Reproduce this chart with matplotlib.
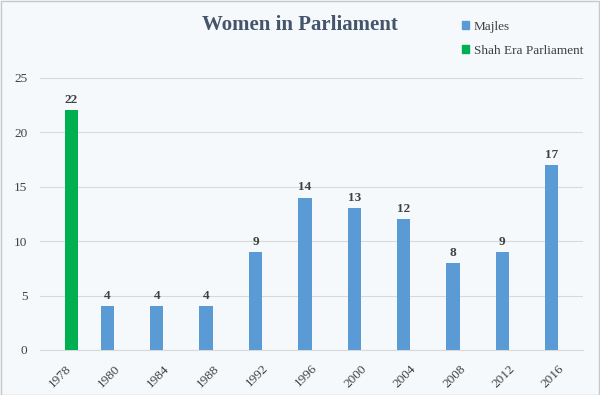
import matplotlib
matplotlib.use('Agg')
import matplotlib.pyplot as plt
from matplotlib.patches import Patch
import numpy as np

years = ['1978', '1980', '1984', '1988', '1992', '1996', '2000', '2004', '2008', '2012', '2016']
majles = [0, 4, 4, 4, 9, 14, 13, 12, 8, 9, 17]
shah = [22, 0, 0, 0, 0, 0, 0, 0, 0, 0, 0]

blue = '#5b9bd5'
green = '#00b050'
bg = '#f5f9fc'
serif = 'Liberation Serif'

fig = plt.figure(figsize=(6, 3.95), dpi=100, facecolor=bg)
ax = fig.add_axes([0.0667, 0.114, 0.905, 0.689], facecolor=bg)

x = np.arange(len(years))
w = 0.27
ax.bar(x - w / 2, majles, width=w, color=blue, zorder=3)
ax.bar(x + w / 2, shah, width=w, color=green, zorder=3)

# value labels on top of the bars
for i in range(len(years)):
    if majles[i] > 0:
        ax.text(x[i] - w / 2, majles[i] + 0.4, str(majles[i]), ha='center', va='bottom',
                fontsize=9.5, fontweight='bold', family=serif, color='#404040')
    if shah[i] > 0:
        ax.text(x[i] + w / 2, shah[i] + 0.4, str(shah[i]), ha='center', va='bottom',
                fontsize=9.5, fontweight='bold', family=serif, color='#404040')

ax.set_xlim(-0.5, len(years) - 0.5)
ax.set_ylim(0, 25)
ax.set_yticks([0, 5, 10, 15, 20, 25])
ax.set_xticks(x)
ax.set_xticklabels(years, rotation=45, ha='right', rotation_mode='anchor')
for lab in ax.get_xticklabels() + ax.get_yticklabels():
    lab.set_family(serif)
    lab.set_fontsize(9.5)
    lab.set_color('#404040')
ax.tick_params(axis='both', length=0)
ax.tick_params(axis='y', pad=9)
ax.tick_params(axis='x', pad=9)
ax.grid(axis='y', color='#d9d9d9', linewidth=0.8, zorder=0)
for s in ['top', 'right', 'left']:
    ax.spines[s].set_visible(False)
ax.spines['bottom'].set_color('#d9d9d9')

fig.text(0.5, 0.937, 'Women in Parliament', ha='center', va='center', family=serif,
         fontsize=15, fontweight='bold', color='#44546a')

handles = [Patch(color=blue, label='Majles'), Patch(color=green, label='Shah Era Parliament')]
fig.legend(handles=handles, loc='upper left', bbox_to_anchor=(0.75, 0.978), frameon=False,
           prop={'family': serif, 'size': 9.5}, handlelength=0.55, handleheight=0.55,
           handletextpad=0.35, labelspacing=0.95, labelcolor='#404040')

# thin frame around the whole picture
fig.patches.append(plt.Rectangle((0.001, 0.001), 0.997, 0.997, transform=fig.transFigure,
                                 fill=False, edgecolor='#c8c8c8', linewidth=1))

plt.savefig('out.png', dpi=100, facecolor=bg)
